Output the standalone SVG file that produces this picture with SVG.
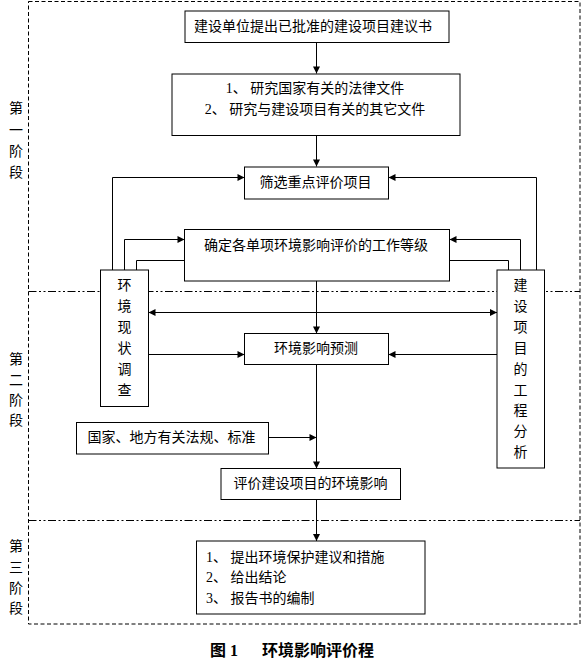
<svg xmlns="http://www.w3.org/2000/svg" width="582" height="667" viewBox="0 0 582 667">
<style>
.bx{fill:#fff;stroke:#000;stroke-width:1}
.t{font-family:"Liberation Serif","Noto Sans CJK SC",serif;font-size:14px;fill:#000}
.m{text-anchor:middle}
.ln{fill:none;stroke:#000;stroke-width:1}
.frame{fill:none;stroke:#000;stroke-width:1;stroke-dasharray:4 2.5}
.sep{fill:none;stroke:#000;stroke-width:1;stroke-dasharray:8 2.5 2 2.5 2 2.5}
.cap{font-family:"Liberation Serif","Noto Sans CJK SC",serif;font-size:16px;font-weight:bold;fill:#000}
</style>
<defs>
<marker id="ah" viewBox="0 0 10 10" refX="10" refY="5" markerWidth="9" markerHeight="7" markerUnits="userSpaceOnUse" orient="auto-start-reverse">
<path d="M0,0 L10,5 L0,10 z" fill="#000"/>
</marker>
</defs>
<rect width="582" height="667" fill="#fff"/>
<g id="frame">
<rect class="frame" x="28.5" y="1.5" width="551.5" height="622.5"/>
<line class="sep" x1="28.5" y1="291.5" x2="580" y2="291.5"/>
<line class="sep" x1="28.5" y1="520.5" x2="580" y2="520.5"/>
</g>
<g id="stage1">
<text class="t m" x="16"><tspan x="16" y="113">第</tspan><tspan x="16" y="135">一</tspan><tspan x="16" y="156">阶</tspan><tspan x="16" y="177">段</tspan></text>
</g>
<g id="stage2">
<text class="t m" x="16"><tspan x="16" y="364">第</tspan><tspan x="16" y="385">二</tspan><tspan x="16" y="405">阶</tspan><tspan x="16" y="425">段</tspan></text>
</g>
<g id="stage3">
<text class="t m" x="16"><tspan x="16" y="551">第</tspan><tspan x="16" y="572">三</tspan><tspan x="16" y="593">阶</tspan><tspan x="16" y="613">段</tspan></text>
</g>
<g id="connectors">
<line class="ln" x1="316.5" y1="42.5" x2="316.5" y2="73.5" marker-end="url(#ah)"/>
<line class="ln" x1="316.5" y1="135.5" x2="316.5" y2="166.5" marker-end="url(#ah)"/>
<polyline class="ln" points="112.5,270 112.5,177.5 244.5,177.5" marker-end="url(#ah)"/>
<polyline class="ln" points="536.5,270 536.5,177.5 388.5,177.5" marker-end="url(#ah)"/>
<polyline class="ln" points="124.5,270 124.5,239.5 184.5,239.5" marker-end="url(#ah)"/>
<polyline class="ln" points="520.5,270 520.5,239.5 449.5,239.5" marker-end="url(#ah)"/>
<polyline class="ln" points="184.5,260.5 136.5,260.5 136.5,270"/>
<polyline class="ln" points="449.5,260.5 508.5,260.5 508.5,270"/>
<line class="ln" x1="316.5" y1="281" x2="316.5" y2="333.5" marker-end="url(#ah)"/>
<line class="ln" x1="148.5" y1="312.5" x2="497" y2="312.5" marker-start="url(#ah)" marker-end="url(#ah)"/>
<line class="ln" x1="148.5" y1="354.5" x2="244.5" y2="354.5" marker-end="url(#ah)"/>
<line class="ln" x1="497" y1="354.5" x2="388.5" y2="354.5" marker-end="url(#ah)"/>
<line class="ln" x1="316.5" y1="364.5" x2="316.5" y2="468.5" marker-end="url(#ah)"/>
<line class="ln" x1="268.5" y1="437.5" x2="316.5" y2="437.5" marker-end="url(#ah)"/>
<line class="ln" x1="316.5" y1="499.5" x2="316.5" y2="541" marker-end="url(#ah)"/>
</g>
<g id="n1">
<rect class="bx" x="185" y="11" width="264" height="31.5"/>
<text class="t m" x="313" y="31">建设单位提出已批准的建设项目建议书</text>
</g>
<g id="n2">
<rect class="bx" x="172" y="74" width="288" height="61.5"/>
<text class="t m" x="315" y="93">1、 研究国家有关的法律文件</text>
<text class="t m" x="315" y="114">2、 研究与建设项目有关的其它文件</text>
</g>
<g id="n3">
<rect class="bx" x="244.5" y="167" width="144" height="32"/>
<text class="t m" x="315.5" y="187">筛选重点评价项目</text>
</g>
<g id="n4">
<rect class="bx" x="184.5" y="229.5" width="265" height="51.5"/>
<text class="t m" x="316" y="250">确定各单项环境影响评价的工作等级</text>
</g>
<g id="n5">
<rect class="bx" x="100.5" y="270" width="48" height="136.5"/>
<text class="t m"><tspan x="124.5" y="290">环</tspan><tspan x="124.5" y="311">境</tspan><tspan x="124.5" y="332">现</tspan><tspan x="124.5" y="353">状</tspan><tspan x="124.5" y="374">调</tspan><tspan x="124.5" y="395">查</tspan></text>
</g>
<g id="n6">
<rect class="bx" x="497" y="270" width="47.5" height="198"/>
<text class="t m"><tspan x="520.5" y="290">建</tspan><tspan x="520.5" y="311">设</tspan><tspan x="520.5" y="332">项</tspan><tspan x="520.5" y="353">目</tspan><tspan x="520.5" y="374">的</tspan><tspan x="520.5" y="395">工</tspan><tspan x="520.5" y="415">程</tspan><tspan x="520.5" y="436">分</tspan><tspan x="520.5" y="457">析</tspan></text>
</g>
<g id="n7">
<rect class="bx" x="244.5" y="333.5" width="144" height="31"/>
<text class="t m" x="316" y="353">环境影响预测</text>
</g>
<g id="n8">
<rect class="bx" x="76.5" y="422.5" width="192" height="31.5"/>
<text class="t m" x="171.5" y="442">国家、地方有关法规、标准</text>
</g>
<g id="n9">
<rect class="bx" x="221" y="468.5" width="179.5" height="31"/>
<text class="t m" x="310.5" y="488">评价建设项目的环境影响</text>
</g>
<g id="n10">
<rect class="bx" x="196.5" y="541" width="228.5" height="73"/>
<text class="t" x="206" y="562">1、 提出环境保护建议和措施</text>
<text class="t" x="206" y="582">2、 给出结论</text>
<text class="t" x="206" y="603">3、 报告书的编制</text>
</g>
<g id="caption">
<text class="cap" y="656"><tspan x="210">图 1</tspan><tspan x="262">环境影响评价程</tspan></text>
</g>
</svg>
